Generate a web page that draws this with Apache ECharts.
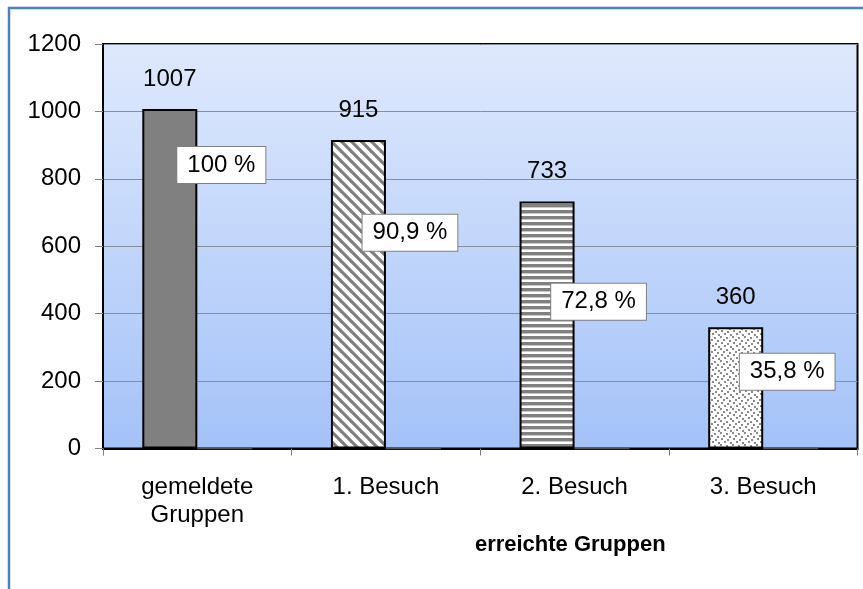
<!DOCTYPE html>
<html>
<head>
<meta charset="utf-8">
<script src="https://cdn.jsdelivr.net/npm/echarts@6/dist/echarts.min.js"></script>
<style>html,body{margin:0;padding:0;background:#fff}#c{width:863px;height:589px}</style>
</head>
<body>
<div id="c"></div>
<script>
const categories = ['gemeldete\nGruppen', '1. Besuch', '2. Besuch', '3. Besuch'];
const counts = [1007, 915, 733, 360];
const zeroValues = [0, 0, 0, 0];
const percentLabels = ['100 %', '90,9 %', '72,8 %', '35,8 %'];
const percentLabelPos = [841, 640, 435, 228];
const yMin = 0, yMax = 1200, yStep = 200;
const xAxisTitle = 'erreichte Gruppen';

function mk(w, h, draw) {
  const c = document.createElement('canvas');
  c.width = w; c.height = h;
  const g = c.getContext('2d');
  g.fillStyle = '#ffffff'; g.fillRect(0, 0, w, h);
  draw(g);
  return c;
}
const diag = mk(10, 10, g => {
  g.strokeStyle = '#7f7f7f'; g.lineWidth = 3.2;
  for (let k = -1; k <= 1; k++) {
    g.beginPath(); g.moveTo(-2, k * 10 - 2); g.lineTo(12, k * 10 + 12); g.stroke();
  }
});
const horiz = mk(6, 6, g => {
  g.fillStyle = '#808080'; g.fillRect(0, 0, 6, 3);
  g.fillStyle = '#c8c8c8'; g.fillRect(0, 3, 6, 1);
});
const dots = mk(12, 12, g => {
  g.fillStyle = '#8a8a8a';
  [[0,0],[6,1],[3,3],[9,4],[1,6],[7,7],[4,9],[10,10]].forEach(p => g.fillRect(p[0], p[1], 2, 2));
});
const fills = ['#808080', {image: diag, repeat: 'repeat'}, {image: horiz, repeat: 'repeat'}, {image: dots, repeat: 'repeat'}];

const font = 'Liberation Sans';
const chart = echarts.init(document.getElementById('c'), null, {renderer: 'canvas'});
chart.setOption({
  animation: false,
  textStyle: {fontFamily: font},
  graphic: [{
    type: 'rect', shape: {x: 9, y: 8, width: 900, height: 700},
    style: {fill: 'none', stroke: '#4f81bd', lineWidth: 2.5}, z: -10
  }],
  grid: {
    left: 103, right: 5.5, top: 44, bottom: 140.5, show: true,
    borderColor: '#000', borderWidth: 2,
    backgroundColor: new echarts.graphic.LinearGradient(0, 0, 0, 1, [
      {offset: 0, color: '#dfe9fd'}, {offset: 1, color: '#a4c2f8'}
    ])
  },
  xAxis: {
    type: 'category', data: categories,
    axisLine: {lineStyle: {color: '#000', width: 2}},
    axisTick: {show: true, length: 7, lineStyle: {color: '#808080'}},
    axisLabel: {fontSize: 24, color: '#000', lineHeight: 28, margin: 25, fontFamily: font},
    name: xAxisTitle, nameLocation: 'middle', nameGap: 84,
    nameTextStyle: {fontSize: 22, fontWeight: 'bold', color: '#000', padding: [0, 0, 0, 180], fontFamily: font}
  },
  yAxis: {
    type: 'value', min: yMin, max: yMax, interval: yStep,
    axisLine: {show: true, lineStyle: {color: '#000', width: 2}},
    axisTick: {show: true, length: 8, lineStyle: {color: '#808080'}},
    axisLabel: {fontSize: 24, color: '#000', margin: 22, fontFamily: font, formatter: v => String(v)},
    splitLine: {lineStyle: {color: '#868e99', width: 1}}
  },
  series: [
    {
      type: 'bar', barWidth: 55, barGap: '0%',
      data: counts.map((v, i) => ({value: v, itemStyle: {color: fills[i]}})),
      itemStyle: {borderColor: '#000', borderWidth: 2},
      label: {show: true, position: 'top', distance: 18, fontSize: 24, color: '#000', fontFamily: font}
    },
    {
      type: 'bar', barWidth: 55,
      data: zeroValues,
      itemStyle: {color: '#606060', borderColor: '#505050', borderWidth: 1.5}
    },
    {
      type: 'scatter', symbolSize: 2, z: 20,
      itemStyle: {color: 'rgba(0,0,0,0)', opacity: 1},
      data: percentLabelPos,
      label: {
        show: true, position: 'inside', offset: [24, 0],
        formatter: p => percentLabels[p.dataIndex],
        fontSize: 24, color: '#000', fontFamily: font,
        backgroundColor: '#fff', borderColor: '#808080', borderWidth: 1, padding: [7, 10, 5, 10]
      }
    }
  ]
});
</script>
</body>
</html>
